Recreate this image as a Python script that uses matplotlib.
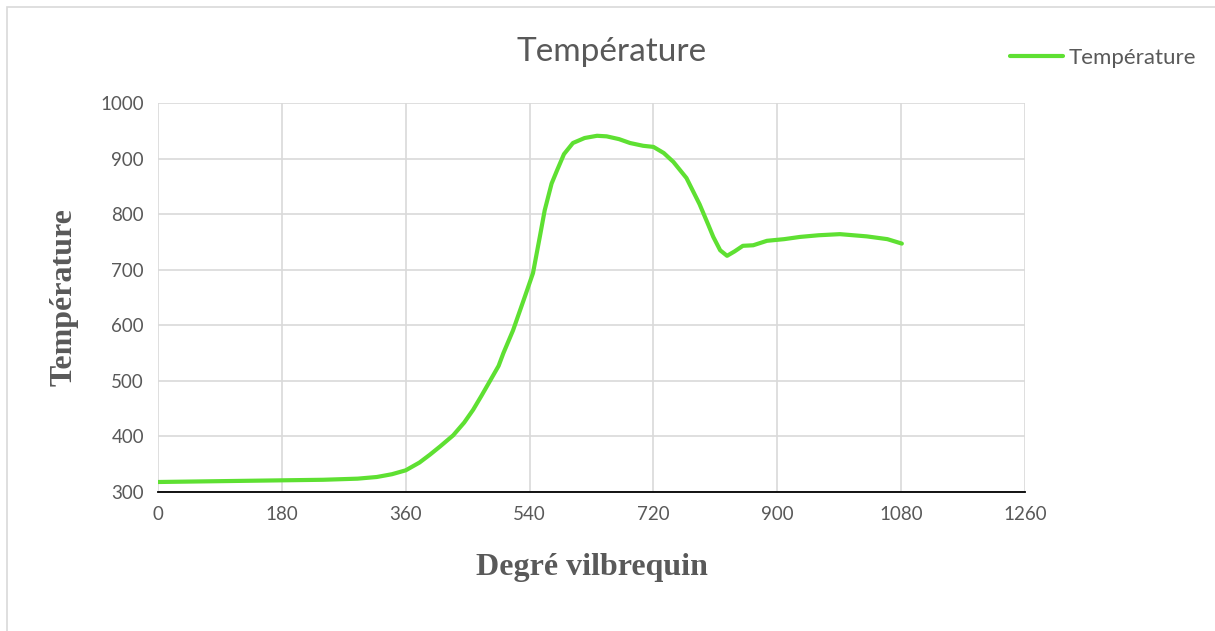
import matplotlib.pyplot as plt
from matplotlib.patches import Rectangle

# crankshaft angle (deg) and temperature
degre = [0, 60, 120, 180, 240, 290, 318, 340, 360, 380, 395, 410, 429, 445, 458,
         470, 483, 495, 502, 516, 533, 545, 555, 562, 572, 580, 590, 603, 620,
         638, 652, 670, 686, 705, 720, 735, 749, 768, 787, 800, 807, 817, 827,
         838, 850, 865, 885, 910, 933, 960, 991, 1030, 1060, 1081]
temperature = [318, 319, 320, 321, 322, 324, 327, 332, 339, 353, 367, 382, 402,
               425, 448, 473, 501, 527, 550, 591, 651, 694, 760, 807, 855, 879,
               908, 928, 937, 941, 940, 935, 928, 923, 921, 910, 894, 865, 818,
               780, 759, 735, 725, 733, 743, 744, 752, 755, 759, 762, 764, 760,
               755, 747]

xticks = [0, 180, 360, 540, 720, 900, 1080, 1260]
yticks = [300, 400, 500, 600, 700, 800, 900, 1000]

fig = plt.figure(figsize=(12.15, 6.31), dpi=100)
fig.patches.append(Rectangle((7 / 1215, -0.01), 1.02, 1 - 7 / 631 + 0.01,
                             transform=fig.transFigure, fill=False,
                             edgecolor='#d9d9d9', linewidth=1.2))

ax = fig.add_axes([158 / 1215, 1 - 492 / 631, (1025 - 158) / 1215, (492 - 103) / 631])
ax.plot(degre, temperature, color='#5ee032', linewidth=3, label='Température',
        solid_capstyle='round')

ax.set_xlim(0, 1260)
ax.set_ylim(300, 1000)
ax.set_xticks(xticks)
ax.set_yticks(yticks)
ax.grid(True, color='#d9d9d9', linewidth=1.2)
ax.set_axisbelow(True)
for s in ['top', 'right', 'left']:
    ax.spines[s].set_visible(False)
ax.spines['bottom'].set_color('black')
ax.spines['bottom'].set_linewidth(1.3)
ax.spines['bottom'].set_zorder(3)
ax.tick_params(length=0, labelsize=13.5, colors='#595959', pad=10)
for lab in ax.get_xticklabels() + ax.get_yticklabels():
    lab.set_family('Lato')

ax.set_xlabel('Degré vilbrequin', family='Liberation Serif', weight='bold',
              fontsize=23, color='#595959', labelpad=22)
ax.set_ylabel('Température', family='Liberation Serif', weight='bold',
              fontsize=23, color='#595959', labelpad=16)

fig.text(612 / 1215, 1 - 52 / 631, 'Température', family='Lato',
         fontsize=24, color='#595959', ha='center', va='center')

leg = fig.legend(loc='center left', bbox_to_anchor=(990 / 1215, 1 - 58 / 631),
                 frameon=False, handlelength=2.4, handletextpad=0.25,
                 prop={'family': 'Lato', 'size': 16})
for t in leg.get_texts():
    t.set_color('#595959')

fig.savefig('out.png', dpi=100)
